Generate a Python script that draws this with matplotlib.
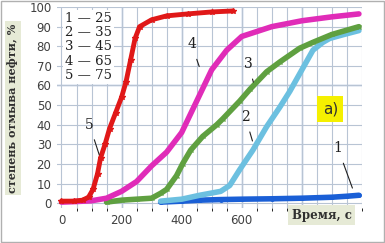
import numpy as np
import matplotlib.pyplot as plt
from matplotlib.patches import Rectangle

# curve 1 (25)
t1 = [330, 400, 460, 530, 600, 700, 800, 900, 950, 990]
y1 = [0.5, 1.0, 1.5, 1.8, 2.0, 2.2, 2.5, 3.0, 3.5, 4.0]
# curve 2 (35)
t2 = [330, 400, 460, 530, 560, 593, 637, 683, 727, 760, 793, 837, 870, 893, 940, 990]
y2 = [1.0, 2.0, 4.0, 6.0, 9.0, 17, 27, 39, 49, 57, 66, 78, 82, 84, 86, 88]
# curve 3 (45)
t3 = [150, 200, 250, 300, 330, 350, 383, 403, 430, 470, 517, 537, 593, 627, 683, 727, 793, 837, 900, 990]
y3 = [0.5, 1.5, 2.0, 2.5, 5, 7, 14, 20, 27, 34, 40, 43, 52, 58, 67, 72, 79, 82, 86, 90]
# curve 4 (65)
t4 = [0, 50, 100, 150, 200, 250, 300, 350, 400, 450, 500, 550, 600, 700, 800, 900, 990]
y4 = [0.5, 0.8, 1.2, 2.5, 6, 11, 19, 26, 36, 52, 68, 78, 85, 90, 93, 95, 96.5]
# curve 5 (75)
t5 = [0, 40, 70, 90, 105, 120, 130, 145, 160, 180, 200, 215, 230, 245, 260, 300, 350, 420, 500, 570]
y5 = [1, 1, 1.5, 3, 7, 15, 23, 30, 38, 46, 54, 62, 73, 84, 90, 93.5, 95.5, 96.5, 97.5, 98]

legend_lines = ["1 — 25", "2 — 35", "3 — 45", "4 — 65", "5 — 75"]

fig = plt.figure(figsize=(3.85, 2.43), dpi=100)
fig.patches.append(Rectangle((0.002, 0.004), 0.995, 0.99, transform=fig.transFigure,
                             fill=False, edgecolor='#b0b0b0', lw=1))
ax = fig.add_axes([0.148, 0.144, 0.792, 0.827])

ax.set_xlim(-15, 1000)
ax.set_ylim(-2.5, 100)
ax.set_xticks([0, 200, 400, 600])
ax.set_xticks(np.arange(0, 1001, 50), minor=True)
ax.set_yticks(np.arange(0, 101, 10))
ax.grid(True, which='both', color='#b8c4d4', lw=0.8)
for x in [200, 400, 600, 800]:
    ax.axvline(x, color='#5a86b8', lw=0.9, zorder=0.5)
ax.axhline(60, color='#5a86b8', lw=0.9, zorder=0.5)
ax.set_axisbelow(True)
for s in ax.spines.values():
    s.set_visible(False)
ax.tick_params(length=0, labelsize=8.5, colors='#404040', pad=4)

kw = dict(solid_capstyle='round', solid_joinstyle='round')
ax.plot(t1, y1, color='#1a5fd6', lw=4, marker='o', ms=2.5, **kw)
ax.plot(t2, y2, color='#6cc0e0', lw=4, **kw)
ax.plot(t3, y3, color='#5fa040', lw=4, marker='x', ms=3, **kw)
ax.plot(t4, y4, color='#e02cb8', lw=4, **kw)
ax.plot(t5, y5, color='#e01818', lw=3.5, marker='*', ms=4, **kw)

# curve labels with leader lines
lbl = dict(fontsize=10, family='DejaVu Serif', color='#202020', ha='center', va='center')
arr = dict(arrowstyle='-', lw=0.8, color='#202020', shrinkA=4, shrinkB=1)
ax.annotate('5', xy=(127, 24), xytext=(93, 40), arrowprops=arr, **lbl)
ax.annotate('4', xy=(460, 69), xytext=(433, 81), arrowprops=arr, **lbl)
ax.annotate('3', xy=(640, 61), xytext=(622, 71), arrowprops=arr, **lbl)
ax.annotate('2', xy=(637, 31), xytext=(612, 44), arrowprops=arr, **lbl)
ax.annotate('1', xy=(970, 7), xytext=(920, 28), arrowprops=arr, **lbl)

ax.text(12, 97.5, "\n".join(legend_lines), fontsize=9.5, family='DejaVu Serif', va='top',
        linespacing=1.12, color='#202020',
        bbox=dict(facecolor='white', edgecolor='none', pad=1.5), zorder=5)

ax.text(895, 48, 'a)', fontsize=11, ha='center', va='center', color='#303030',
        bbox=dict(facecolor='#f5f000', edgecolor='none', boxstyle='square,pad=0.35'), zorder=5)

fig.text(0.033, 0.555, 'степень отмыва нефти, %', rotation=90, ha='center', va='center',
         fontsize=8, fontweight='bold', family='DejaVu Serif', color='#303030',
         bbox=dict(facecolor='#e6ead6', edgecolor='none', pad=1.8))
fig.text(0.835, 0.115, 'Время, с', ha='center', va='center',
         fontsize=8.5, fontweight='bold', family='DejaVu Serif', color='#303030',
         bbox=dict(facecolor='#e6ead6', edgecolor='none', pad=2.5))

fig.savefig('out.png', dpi=100)
